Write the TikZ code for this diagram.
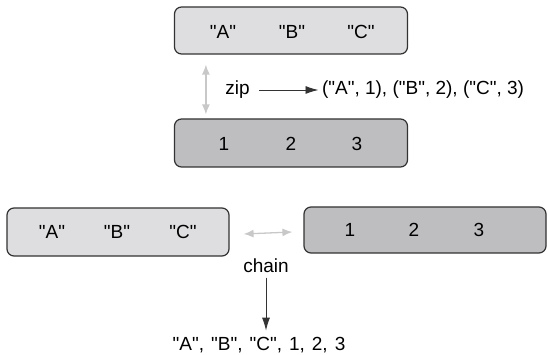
\documentclass[tikz,border=0pt]{standalone}
\usepackage{fontspec}
\setmainfont{Liberation Sans}[Ligatures=TeXOff]
\usetikzlibrary{positioning,calc,arrows.meta}
\definecolor{strcolor}{RGB}{222, 222, 224}
\definecolor{numcolor}{RGB}{190, 190, 193}
\definecolor{edgecolor}{RGB}{51, 51, 51}
\definecolor{pairgray}{RGB}{200, 200, 200}

\begin{document}
\begin{tikzpicture}[
    x=1pt, y=-1pt,
    font=\fontsize{19}{22}\selectfont,
    seq/.style={rectangle, draw=edgecolor, line width=1.2pt, rounded corners=7pt, minimum height=47pt},
    arrow/.style={-{Latex[length=13pt,width=8pt]}, edgecolor, line width=0.9pt},
    pair/.style={{Latex[length=10pt,width=8pt]}-{Latex[length=10pt,width=8pt]}, pairgray, line width=1.3pt}
]
\useasboundingbox (0,0) rectangle (548,355);

% zip: two sequences stacked
\node[seq, fill=strcolor, minimum width=233pt] (letters) at (291,30.5) {};
\node (la) at (223,32) {"A"};
\node (lb) at (292,32) {"B"};
\node (lc) at (361,32) {"C"};

\node[seq, fill=numcolor, minimum width=233pt, minimum height=48pt] (nums) at (291,143) {};
\node (na) at (224,144) {1};
\node (nb) at (291,144) {2};
\node (nc) at (357,144) {3};

\draw[pair] ([xshift=32pt,yshift=-10pt]letters.south west) -- ([xshift=32pt,yshift=4pt]nums.north west);

\node (zip) at (237.5,90) {zip};
\node[anchor=west] (pairs) at (318.5,90) {("A", 1), ("B", 2), ("C", 3)};
\draw[arrow, shorten <=6pt] (zip) -- (pairs);

% chain: two sequences side by side
\node[seq, fill=strcolor, minimum width=222pt, minimum height=48pt] (letters2) at (118,232) {};
\node (la2) at (52,232) {"A"};
\node (lb2) at (117,232) {"B"};
\node (lc2) at (183,232) {"C"};

\node[seq, fill=numcolor, minimum width=242pt, minimum height=46pt] (nums2) at (425,230) {};
\node (na2) at (350,230) {1};
\node (nb2) at (414,230) {2};
\node (nc2) at (479,230) {3};

\draw[pair] ([xshift=14pt,yshift=-2pt]letters2.east) -- ([xshift=-11pt]nums2.west |- letters2.east);

\node (chain) at (266,266) {chain};
\node (joined) at (259,345) {"A",\hspace{7pt}"B",\hspace{7pt}"C",\hspace{7pt}1,\hspace{7pt}2,\hspace{7pt}3};
\draw[arrow, shorten <=1pt, shorten >=3pt] (chain) -- (chain |- joined.north);

\end{tikzpicture}
\end{document}
